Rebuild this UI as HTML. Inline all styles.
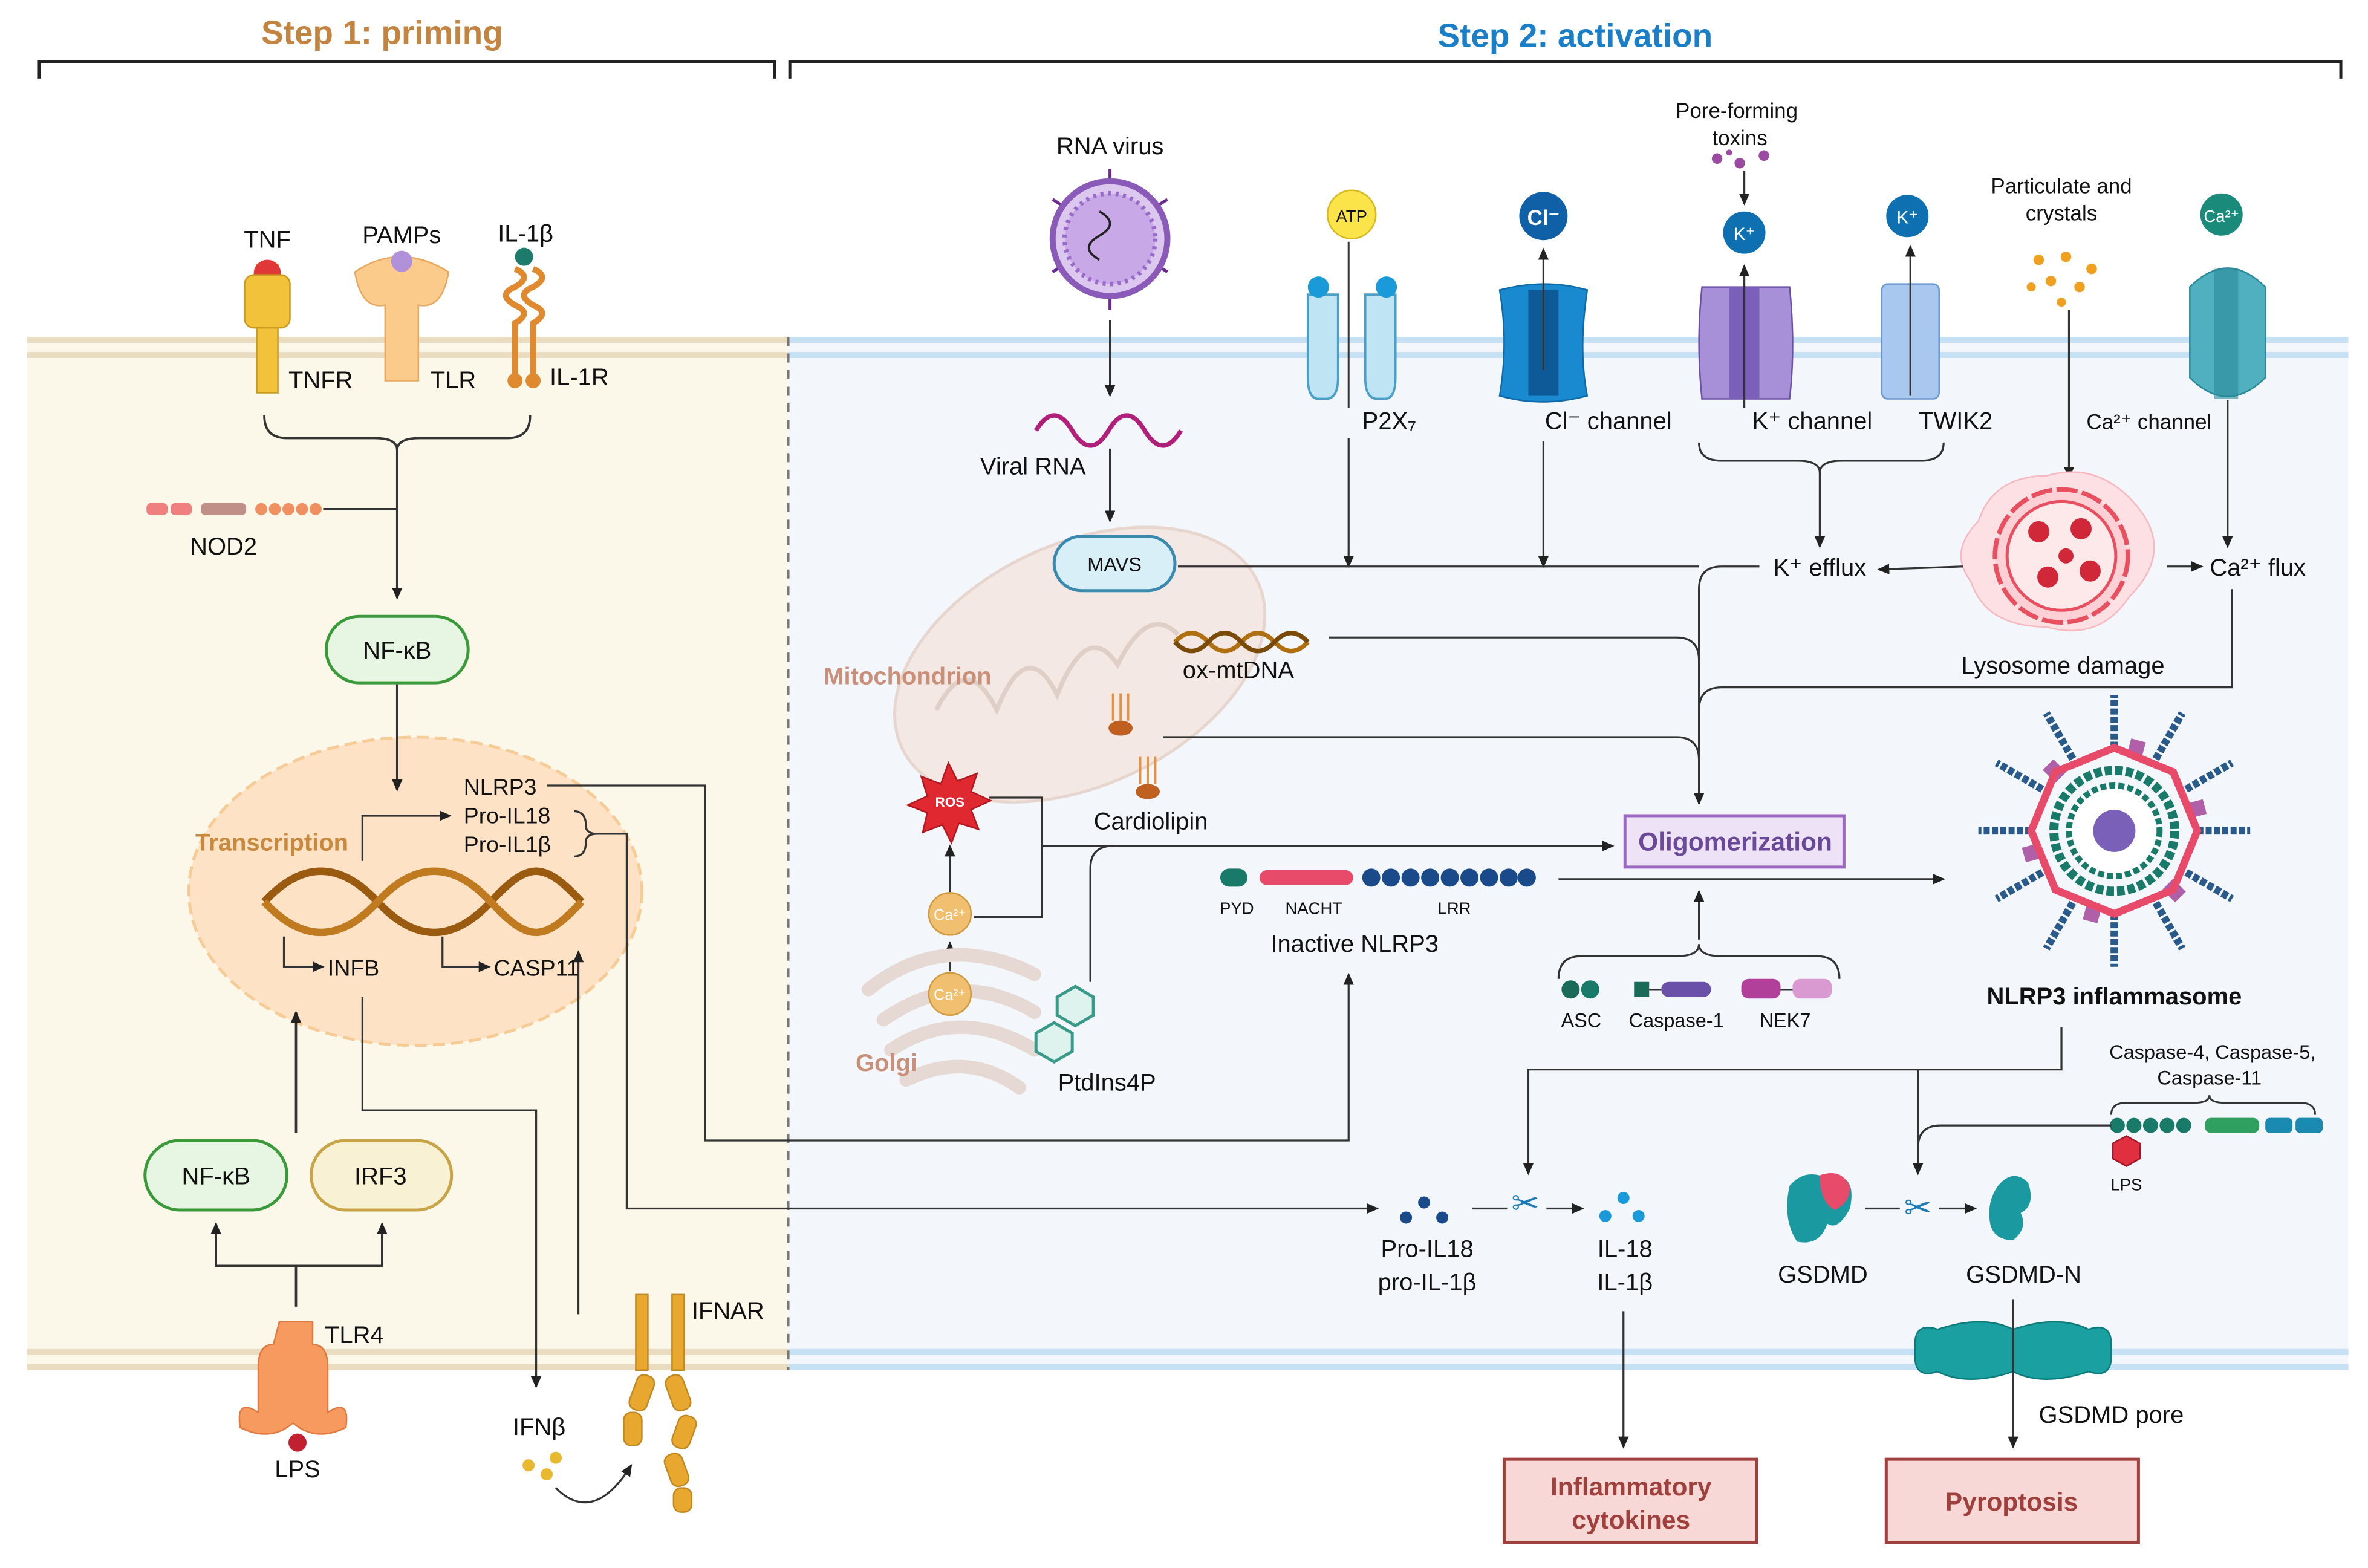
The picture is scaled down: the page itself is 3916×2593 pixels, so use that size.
<!DOCTYPE html>
<html><head><meta charset="utf-8"><style>
html,body{margin:0;padding:0;background:#fff}
svg{display:block}
text{font-family:"Liberation Sans",Arial,sans-serif;fill:#111}
</style></head><body>
<svg width="3916" height="2593" viewBox="0 0 1568 1038" preserveAspectRatio="none" xmlns="http://www.w3.org/2000/svg">
<defs>
<marker id="a" markerWidth="8" markerHeight="8" refX="7" refY="4" orient="auto" markerUnits="userSpaceOnUse"><path d="M0,0.5 L8,4 L0,7.5 Z" fill="#222"/></marker>
</defs>
<rect width="1568" height="1038" fill="#fff"/>
<text x="253" y="29" font-size="22" font-weight="bold" text-anchor="middle" style="fill:#c28440">Step 1: priming</text>
<text x="1043" y="31" font-size="22" font-weight="bold" text-anchor="middle" style="fill:#1b7fc8">Step 2: activation</text>
<path d="M26,52 V41 H513 V52" fill="none" stroke="#222" stroke-width="2"/>
<path d="M523,52 V41 H1550 V52" fill="none" stroke="#222" stroke-width="2"/>
<rect x="18" y="223" width="504" height="684" fill="#fbf8ea"/>
<rect x="18" y="223" width="504" height="4" fill="#eadcc0"/>
<rect x="18" y="233" width="504" height="4" fill="#eadcc0"/>
<rect x="18" y="893" width="504" height="4" fill="#eadcc0"/>
<rect x="18" y="903" width="504" height="4" fill="#eadcc0"/>
<rect x="522" y="223" width="1033" height="684" fill="#f3f7fc"/>
<rect x="522" y="223" width="1033" height="4" fill="#c6e0f4"/>
<rect x="522" y="233" width="1033" height="4" fill="#c6e0f4"/>
<rect x="522" y="893" width="1033" height="4" fill="#c6e0f4"/>
<rect x="522" y="903" width="1033" height="4" fill="#c6e0f4"/>
<line x1="522" y1="223" x2="522" y2="907" stroke="#777" stroke-width="1.5" stroke-dasharray="6,5"/>

<g>
<rect x="170" y="175" width="14" height="85" fill="#f2c23a" stroke="#c99a20"/>
<circle cx="177" cy="181" r="9" fill="#e03838"/>
<rect x="162" y="182" width="30" height="35" rx="6" fill="#f2c23a" stroke="#c99a20"/>
<text x="177" y="164" font-size="16" text-anchor="middle">TNF</text>
<text x="191" y="257" font-size="16">TNFR</text>
<path d="M235,180 q30,-20 62,0 q-4,25 -20,22 v50 h-22 v-50 q-16,3 -20,-22z" fill="#fbcb8c" stroke="#e8a860"/>
<circle cx="266" cy="173" r="7" fill="#b090d8"/>
<text x="266" y="161" font-size="16" text-anchor="middle">PAMPs</text>
<text x="285" y="257" font-size="16">TLR</text>
<path d="M341,178 q12,5 0,12 q-12,5 0,12 q12,5 0,12 v40" fill="none" stroke="#e08a30" stroke-width="4"/>
<path d="M353,178 q12,5 0,12 q-12,5 0,12 q12,5 0,12 v40" fill="none" stroke="#e08a30" stroke-width="4"/>
<circle cx="347" cy="170" r="6" fill="#1e7a6a"/>
<circle cx="341" cy="252" r="5" fill="#e08a30"/><circle cx="353" cy="252" r="5" fill="#e08a30"/>
<text x="348" y="160" font-size="16" text-anchor="middle">IL-1β</text>
<text x="364" y="255" font-size="16">IL-1R</text>
</g>
<path d="M175,275 q0,15 15,15 h58 q15,0 15,8 q0,-8 15,-8 h58 q15,0 15,-15" fill="none" stroke="#333" stroke-width="1.5"/>
<line x1="263" y1="297" x2="263" y2="396" stroke="#333" stroke-width="1.5" marker-end="url(#a)"/>
<rect x="97" y="333" width="14" height="8" rx="3" fill="#f08080"/><rect x="113" y="333" width="14" height="8" rx="3" fill="#f08080"/>
<rect x="133" y="333" width="30" height="8" rx="3" fill="#c09088"/>
<g fill="#f09060"><circle cx="173" cy="337" r="4"/><circle cx="182" cy="337" r="4"/><circle cx="191" cy="337" r="4"/><circle cx="200" cy="337" r="4"/><circle cx="209" cy="337" r="4"/></g>
<line x1="214" y1="337" x2="263" y2="337" stroke="#333" stroke-width="1.5"/>
<text x="148" y="367" font-size="16" text-anchor="middle">NOD2</text>
<rect x="216" y="408" width="94" height="44" rx="22" fill="#e7f6e2" stroke="#3a9a3a" stroke-width="2"/>
<text x="263" y="436" font-size="16" text-anchor="middle">NF-κB</text>
<ellipse cx="275" cy="590" rx="150" ry="102" fill="#fde2c6" stroke="#f7cb96" stroke-width="2" stroke-dasharray="8,4"/>
<line x1="263" y1="453" x2="263" y2="523" stroke="#333" stroke-width="1.5" marker-end="url(#a)"/>
<text x="180" y="563" font-size="16" font-weight="bold" text-anchor="middle" style="fill:#c8893f">Transcription</text>
<text x="307" y="526" font-size="15">NLRP3</text>
<text x="307" y="545" font-size="15">Pro-IL18</text>
<text x="307" y="564" font-size="15">Pro-IL1β</text>
<path d="M175,597 C200,570 225,570 250,597 S300,624 325,597 S360,570 385,597" fill="none" stroke="#9a5a10" stroke-width="5"/>
<path d="M175,597 C200,624 225,624 250,597 S300,570 325,597 S360,624 385,597" fill="none" stroke="#c07a20" stroke-width="5"/>
<path d="M240,570 V540 H298" fill="none" stroke="#333" stroke-width="1.3" marker-end="url(#a)"/>
<path d="M188,620 V640 H214" fill="none" stroke="#333" stroke-width="1.3" marker-end="url(#a)"/>
<path d="M293,620 V640 H324" fill="none" stroke="#333" stroke-width="1.3" marker-end="url(#a)"/>
<text x="217" y="646" font-size="15">INFB</text>
<text x="327" y="646" font-size="15">CASP11</text>
<rect x="96" y="755" width="94" height="46" rx="23" fill="#e7f6e2" stroke="#3a9a3a" stroke-width="2"/>
<text x="143" y="784" font-size="16" text-anchor="middle">NF-κB</text>
<rect x="206" y="755" width="93" height="46" rx="23" fill="#f8f1d4" stroke="#c9a446" stroke-width="2"/>
<text x="252" y="784" font-size="16" text-anchor="middle">IRF3</text>
<line x1="196" y1="750" x2="196" y2="670" stroke="#333" stroke-width="1.5" marker-end="url(#a)"/>
<path d="M196,865 V838 H143 V810 M196,838 H253 V810" fill="none" stroke="#333" stroke-width="1.5"/>
<path d="M143,812 v-2" stroke="#333" marker-end="url(#a)"/><path d="M253,812 v-2" stroke="#333" marker-end="url(#a)"/>
<path d="M185,875 h22 v15 q10,0 10,15 v30 q15,-10 12,10 q-20,10 -35,-3 q-15,13 -35,3 q-3,-20 12,-10 v-30 q0,-15 10,-15z" fill="#f79a60" stroke="#e07a40"/>
<circle cx="197" cy="955" r="6" fill="#c02030"/>
<text x="215" y="889" font-size="16">TLR4</text>
<text x="197" y="978" font-size="16" text-anchor="middle">LPS</text>
<path d="M362,520 H467 V755 H893 V645" fill="none" stroke="#333" stroke-width="1.3" marker-end="url(#a)"/>
<path d="M380,537 q8,0 8,10 q0,5 8,5 q-8,0 -8,5 q0,10 -8,10 M396,552 H415 V800 H912" fill="none" stroke="#333" stroke-width="1.3" marker-end="url(#a)"/>
<path d="M240,660 V735 H355 V918" fill="none" stroke="#333" stroke-width="1.3" marker-end="url(#a)"/>
<path d="M383,870 V630" fill="none" stroke="#333" stroke-width="1.3" marker-end="url(#a)"/>
<g fill="#e8b830"><circle cx="350" cy="970" r="4"/><circle cx="362" cy="976" r="4"/><circle cx="368" cy="965" r="4"/></g>
<text x="357" y="950" font-size="16" text-anchor="middle">IFNβ</text>
<path d="M368,985 q25,25 50,-15" fill="none" stroke="#333" stroke-width="1.3" marker-end="url(#a)"/>
<g fill="#e8a830" stroke="#c08820">
<rect x="421" y="857" width="8" height="50"/><rect x="419" y="910" width="12" height="24" rx="5" transform="rotate(20 425 922)"/><rect x="413" y="935" width="12" height="22" rx="5"/>
<rect x="445" y="857" width="8" height="50"/><rect x="443" y="910" width="12" height="24" rx="5" transform="rotate(-20 449 922)"/><rect x="447" y="937" width="12" height="22" rx="5" transform="rotate(20 453 948)"/><rect x="442" y="962" width="12" height="22" rx="5" transform="rotate(-20 448 973)"/><rect x="446" y="985" width="12" height="16" rx="5"/>
</g>
<text x="458" y="873" font-size="16">IFNAR</text>

<text x="735" y="102" font-size="16" text-anchor="middle">RNA virus</text>
<g stroke="#6a2a90" stroke-width="2">
<line x1="735" y1="112" x2="735" y2="205"/><line x1="697" y1="132" x2="773" y2="180"/><line x1="697" y1="180" x2="773" y2="132"/>
</g>
<circle cx="735" cy="158" r="38" fill="#dcc8ee" stroke="#8a5ab8" stroke-width="4"/>
<circle cx="735" cy="158" r="30" fill="#c8a8e6" stroke="#9a6ac8" stroke-width="3" stroke-dasharray="2,3"/>
<path d="M728,140 q14,8 0,16 q-14,8 0,16" fill="none" stroke="#222" stroke-width="1.5"/>
<line x1="735" y1="212" x2="735" y2="262" stroke="#333" stroke-width="1.3" marker-end="url(#a)"/>
<path d="M686,285 q12,-20 24,0 q12,20 24,0 q12,-20 24,0 q12,20 24,0" fill="none" stroke="#b0207a" stroke-width="3"/>
<text x="684" y="314" font-size="16" text-anchor="middle">Viral RNA</text>
<line x1="735" y1="297" x2="735" y2="345" stroke="#333" stroke-width="1.3" marker-end="url(#a)"/>
<ellipse cx="715" cy="440" rx="130" ry="80" transform="rotate(-25 715 440)" fill="#f3e8e3" stroke="#e6d6ce" stroke-width="2"/>
<path d="M620,470 q20,-40 40,0 q20,-50 40,-10 q20,-50 40,-20 q20,-40 40,-20" fill="none" stroke="#e0cfc6" stroke-width="3"/>
<rect x="698" y="355" width="80" height="36" rx="18" fill="#d9eff8" stroke="#3a8ab0" stroke-width="2"/>
<text x="738" y="378" font-size="13" text-anchor="middle">MAVS</text>
<text x="601" y="453" font-size="16" font-weight="bold" text-anchor="middle" style="fill:#c98f78">Mitochondrion</text>
<path d="M778,425 q11,-12 22,0 t22,0 t22,0 t22,0" fill="none" stroke="#b07010" stroke-width="3"/>
<path d="M778,425 q11,12 22,0 t22,0 t22,0 t22,0" fill="none" stroke="#7a4a08" stroke-width="3"/>
<text x="820" y="449" font-size="16" text-anchor="middle">ox-mtDNA</text>
<ellipse cx="742" cy="482" rx="8" ry="5" fill="#c06020"/><path d="M737,477 v-18 M742,477 v-18 M747,477 v-18" stroke="#e8903a" stroke-width="1.5"/>
<ellipse cx="760" cy="524" rx="8" ry="5" fill="#c06020"/><path d="M755,519 v-18 M760,519 v-18 M765,519 v-18" stroke="#e8903a" stroke-width="1.5"/>
<text x="762" y="549" font-size="16" text-anchor="middle">Cardiolipin</text>
<path d="M628,505 l6,12 13,-5 -4,12 13,6 -13,6 5,13 -13,-4 -5,13 -6,-12 -13,5 3,-13 -13,-5 13,-6 -4,-13 13,5z" fill="#e02830" stroke="#b01820"/>
<text x="629" y="534" font-size="9" font-weight="bold" text-anchor="middle" style="fill:#fff">ROS</text>
<path d="M655,528 H690 V607 H645 M690,560 H1068" fill="none" stroke="#333" stroke-width="1.3" marker-end="url(#a)"/>
<line x1="629" y1="592" x2="629" y2="560" stroke="#333" stroke-width="1.3" marker-end="url(#a)"/>
<line x1="629" y1="643" x2="629" y2="624" stroke="#333" stroke-width="1.3" marker-end="url(#a)"/>
<g fill="none" stroke="#e6d8d2" stroke-width="9" stroke-linecap="round">
<path d="M575,655 q50,-40 110,-10"/><path d="M585,675 q50,-35 100,-5"/><path d="M590,695 q45,-30 95,0"/><path d="M600,715 q40,-20 75,5"/>
</g>
<circle cx="629" cy="605" r="14" fill="#f0c070" stroke="#d09a40"/><text x="629" y="609" font-size="10" text-anchor="middle" style="fill:#fff">Ca²⁺</text>
<circle cx="629" cy="658" r="14" fill="#f0c070" stroke="#d09a40"/><text x="629" y="662" font-size="10" text-anchor="middle" style="fill:#fff">Ca²⁺</text>
<text x="587" y="709" font-size="16" font-weight="bold" text-anchor="middle" style="fill:#c98f78">Golgi</text>
<polygon points="700,660 712,653 724,660 724,672 712,679 700,672" fill="#dff3ee" stroke="#3a9a8a" stroke-width="2"/>
<polygon points="686,684 698,677 710,684 710,696 698,703 686,696" fill="#dff3ee" stroke="#3a9a8a" stroke-width="2"/>
<text x="733" y="722" font-size="16" text-anchor="middle">PtdIns4P</text>
<path d="M722,650 V575 q0,-15 15,-15" fill="none" stroke="#333" stroke-width="1.3"/>
<circle cx="895" cy="142" r="16" fill="#fbe44a" stroke="#d8b820"/><text x="895" y="147" font-size="11" text-anchor="middle">ATP</text>
<path d="M866,195 h20 v55 q0,14 -8,14 h-5 q-7,0 -7,-14z M904,195 h20 v55 q0,14 -7,14 h-5 q-8,0 -8,-14z" fill="#bfe4f4" stroke="#4aa0c8" stroke-width="1.5"/>
<circle cx="873" cy="190" r="7" fill="#1a9ad8"/><circle cx="918" cy="190" r="7" fill="#1a9ad8"/>
<line x1="893" y1="160" x2="893" y2="270" stroke="#333" stroke-width="1.2"/>
<text x="902" y="284" font-size="16">P2X₇</text>
<line x1="893" y1="290" x2="893" y2="375" stroke="#333" stroke-width="1.3" marker-end="url(#a)"/>
<circle cx="1022" cy="143" r="16" fill="#1060a8"/><text x="1022" y="149" font-size="14" font-weight="bold" text-anchor="middle" style="fill:#fff">Cl⁻</text>
<path d="M993,192 q30,-8 58,0 q-6,40 0,70 q-30,8 -58,0 q6,-35 0,-70z" fill="#1a8ad0" stroke="#0e6aa8"/>
<rect x="1012" y="192" width="20" height="70" fill="#0e5a98"/>
<line x1="1022" y1="245" x2="1022" y2="165" stroke="#333" stroke-width="1.3" marker-end="url(#a)"/>
<text x="1065" y="284" font-size="16" text-anchor="middle">Cl⁻ channel</text>
<line x1="1022" y1="292" x2="1022" y2="375" stroke="#333" stroke-width="1.3" marker-end="url(#a)"/>
<text x="1150" y="78" font-size="14" text-anchor="middle">Pore-forming</text>
<text x="1152" y="96" font-size="14" text-anchor="middle">toxins</text>
<g fill="#9a4aa0"><circle cx="1137" cy="105" r="3.5"/><circle cx="1152" cy="108" r="3.5"/><circle cx="1168" cy="103" r="3.5"/><circle cx="1145" cy="101" r="2"/></g>
<line x1="1155" y1="113" x2="1155" y2="135" stroke="#333" stroke-width="1.3" marker-end="url(#a)"/>
<circle cx="1155" cy="154" r="15" fill="#0e70b0" stroke="#fff" stroke-width="2"/><text x="1155" y="159" font-size="12" text-anchor="middle" style="fill:#fff">K⁺</text>
<path d="M1127,190 h58 q4,40 0,74 h-58 q-4,-37 0,-74z" fill="#a890d8" stroke="#6a50a8"/>
<rect x="1145" y="190" width="20" height="74" fill="#7a60b8"/>
<line x1="1155" y1="270" x2="1155" y2="176" stroke="#333" stroke-width="1.3" marker-end="url(#a)"/>
<text x="1200" y="284" font-size="16" text-anchor="middle">K⁺ channel</text>
<circle cx="1263" cy="143" r="15" fill="#0e70b0" stroke="#fff" stroke-width="2"/><text x="1263" y="148" font-size="12" text-anchor="middle" style="fill:#fff">K⁺</text>
<rect x="1246" y="188" width="38" height="76" rx="4" fill="#a8c8f0" stroke="#6a98d0"/>
<line x1="1265" y1="262" x2="1265" y2="163" stroke="#333" stroke-width="1.3" marker-end="url(#a)"/>
<text x="1295" y="284" font-size="16" text-anchor="middle">TWIK2</text>
<path d="M1125,293 q0,12 15,12 h50 q15,0 15,8 q0,-8 15,-8 h52 q15,0 15,-12" fill="none" stroke="#333" stroke-width="1.3"/>
<line x1="1205" y1="312" x2="1205" y2="362" stroke="#333" stroke-width="1.3" marker-end="url(#a)"/>
<text x="1365" y="128" font-size="14" text-anchor="middle">Particulate and</text>
<text x="1365" y="146" font-size="14" text-anchor="middle">crystals</text>
<g fill="#f0a020"><circle cx="1350" cy="172" r="3.5"/><circle cx="1368" cy="170" r="3.5"/><circle cx="1385" cy="178" r="3.5"/><circle cx="1358" cy="186" r="3.5"/><circle cx="1377" cy="190" r="3.5"/><circle cx="1345" cy="190" r="3"/><circle cx="1365" cy="200" r="3"/></g>
<line x1="1370" y1="205" x2="1370" y2="316" stroke="#333" stroke-width="1.3" marker-end="url(#a)"/>
<circle cx="1471" cy="142" r="15" fill="#1a8a7a" stroke="#fff" stroke-width="2"/><text x="1471" y="147" font-size="11" text-anchor="middle" style="fill:#fff">Ca²⁺</text>
<path d="M1450,190 q25,-25 50,0 v60 q-25,25 -50,0z" fill="#50b0c0" stroke="#2a8a9a"/>
<rect x="1466" y="178" width="16" height="86" fill="#2a8a9a" opacity="0.6"/>
<text x="1423" y="284" font-size="14" text-anchor="middle">Ca²⁺ channel</text>
<line x1="1475" y1="265" x2="1475" y2="362" stroke="#333" stroke-width="1.3" marker-end="url(#a)"/>
<path d="M1310,345 q10,-30 45,-30 q35,-10 60,20 q25,30 -5,60 q-20,30 -55,20 q-40,0 -50,-30 q-15,-20 5,-40z" fill="#fde0e4" stroke="#f7b8c0"/>
<circle cx="1365" cy="368" r="44" fill="#fdd0d6" stroke="#e85060" stroke-width="3" stroke-dasharray="14,3"/>
<circle cx="1365" cy="368" r="36" fill="#fde8ea" stroke="#e85060" stroke-width="2"/>
<g fill="#d02838"><circle cx="1350" cy="352" r="7"/><circle cx="1378" cy="350" r="7"/><circle cx="1356" cy="382" r="7"/><circle cx="1384" cy="378" r="7"/><circle cx="1368" cy="368" r="5"/></g>
<text x="1366" y="446" font-size="16" text-anchor="middle">Lysosome damage</text>
<text x="1205" y="381" font-size="16" text-anchor="middle">K⁺ efflux</text>
<text x="1495" y="381" font-size="16" text-anchor="middle">Ca²⁺ flux</text>
<line x1="1300" y1="375" x2="1244" y2="377" stroke="#333" stroke-width="1.3" marker-end="url(#a)"/>
<line x1="1435" y1="375" x2="1458" y2="375" stroke="#333" stroke-width="1.3" marker-end="url(#a)"/>
<path d="M780,375 H1125" fill="none" stroke="#333" stroke-width="1.3"/>
<path d="M1165,375 H1140 q-15,0 -15,15 V532" fill="none" stroke="#333" stroke-width="1.3" marker-end="url(#a)"/>
<path d="M1478,390 V455 H1140 q-15,0 -15,15" fill="none" stroke="#333" stroke-width="1.3"/>
<path d="M880,422 H1110 q15,0 15,15" fill="none" stroke="#333" stroke-width="1.3"/>
<path d="M770,488 H1110 q15,0 15,15" fill="none" stroke="#333" stroke-width="1.3"/>
<rect x="1076" y="540" width="145" height="34" fill="#eee2f6" stroke="#9a68c0" stroke-width="2"/>
<text x="1149" y="563" font-size="17" font-weight="bold" text-anchor="middle" style="fill:#6a4a98">Oligomerization</text>
<rect x="808" y="575" width="18" height="12" rx="6" fill="#1a7a6a"/>
<rect x="834" y="576" width="62" height="10" rx="5" fill="#e84a6a"/>
<g fill="#1a4a8a"><circle cx="908" cy="581" r="6"/><circle cx="921" cy="581" r="6"/><circle cx="934" cy="581" r="6"/><circle cx="947" cy="581" r="6"/><circle cx="960" cy="581" r="6"/><circle cx="973" cy="581" r="6"/><circle cx="986" cy="581" r="6"/><circle cx="999" cy="581" r="6"/><circle cx="1011" cy="581" r="6"/></g>
<text x="819" y="605" font-size="11" text-anchor="middle">PYD</text>
<text x="870" y="605" font-size="11" text-anchor="middle">NACHT</text>
<text x="963" y="605" font-size="11" text-anchor="middle">LRR</text>
<text x="897" y="630" font-size="16" text-anchor="middle">Inactive NLRP3</text>
<line x1="1032" y1="582" x2="1287" y2="582" stroke="#333" stroke-width="1.3" marker-end="url(#a)"/>
<path d="M1032,648 q0,-15 15,-15 h63 q15,0 15,-8 q0,8 15,8 h63 q15,0 15,15" fill="none" stroke="#333" stroke-width="1.3"/>
<line x1="1125" y1="622" x2="1125" y2="590" stroke="#333" stroke-width="1.3" marker-end="url(#a)"/>
<circle cx="1040" cy="655" r="6" fill="#1a6a5a"/><circle cx="1053" cy="655" r="6" fill="#1a7a6a"/>
<text x="1047" y="680" font-size="13" text-anchor="middle">ASC</text>
<rect x="1082" y="650" width="10" height="10" fill="#1a6a5a"/><line x1="1092" y1="655" x2="1100" y2="655" stroke="#333"/><rect x="1100" y="650" width="33" height="10" rx="5" fill="#6a50a8"/>
<text x="1110" y="680" font-size="13" text-anchor="middle">Caspase-1</text>
<rect x="1153" y="648" width="26" height="13" rx="5" fill="#b0409a"/><line x1="1179" y1="655" x2="1187" y2="655" stroke="#333"/><rect x="1187" y="648" width="26" height="13" rx="5" fill="#d89ad0"/>
<text x="1182" y="680" font-size="13" text-anchor="middle">NEK7</text>
<g transform="translate(1400,550)">
<g stroke="#2a5a8a" stroke-width="5" stroke-dasharray="4,1.5">
<line x1="0" y1="-55" x2="0" y2="-90" transform="rotate(0)"/><line x1="0" y1="-55" x2="0" y2="-90" transform="rotate(30)"/><line x1="0" y1="-55" x2="0" y2="-90" transform="rotate(60)"/><line x1="0" y1="-55" x2="0" y2="-90" transform="rotate(90)"/><line x1="0" y1="-55" x2="0" y2="-90" transform="rotate(120)"/><line x1="0" y1="-55" x2="0" y2="-90" transform="rotate(150)"/><line x1="0" y1="-55" x2="0" y2="-90" transform="rotate(180)"/><line x1="0" y1="-55" x2="0" y2="-90" transform="rotate(210)"/><line x1="0" y1="-55" x2="0" y2="-90" transform="rotate(240)"/><line x1="0" y1="-55" x2="0" y2="-90" transform="rotate(270)"/><line x1="0" y1="-55" x2="0" y2="-90" transform="rotate(300)"/><line x1="0" y1="-55" x2="0" y2="-90" transform="rotate(330)"/>
</g>
<g fill="#b060a8"><rect x="-5" y="-62" width="10" height="12" transform="rotate(15)"/><rect x="-5" y="-62" width="10" height="12" transform="rotate(75)"/><rect x="-5" y="-62" width="10" height="12" transform="rotate(135)"/><rect x="-5" y="-62" width="10" height="12" transform="rotate(195)"/><rect x="-5" y="-62" width="10" height="12" transform="rotate(255)"/><rect x="-5" y="-62" width="10" height="12" transform="rotate(315)"/></g>
<polygon points="0,-55 39,-39 55,0 39,39 0,55 -39,39 -55,0 -39,-39" fill="none" stroke="#e84a6a" stroke-width="5"/>
<circle r="40" fill="none" stroke="#1a7a6a" stroke-width="6" stroke-dasharray="5,2"/>
<circle r="30" fill="#fff" stroke="#1a7a6a" stroke-width="4" stroke-dasharray="4,2"/>
<circle r="14" fill="#7a60b8"/>
</g>
<text x="1400" y="665" font-size="16" font-weight="bold" text-anchor="middle">NLRP3 inflammasome</text>
<path d="M1365,680 V708 H1012 V777" fill="none" stroke="#333" stroke-width="1.3" marker-end="url(#a)"/>
<path d="M1270,708 V777" fill="none" stroke="#333" stroke-width="1.3" marker-end="url(#a)"/>
<text x="1465" y="701" font-size="13" text-anchor="middle">Caspase-4, Caspase-5,</text>
<text x="1463" y="718" font-size="13" text-anchor="middle">Caspase-11</text>
<path d="M1398,738 q0,-8 10,-8 h45 q10,0 10,-5 q0,5 10,5 h50 q10,0 10,8" fill="none" stroke="#333" stroke-width="1.2"/>
<g fill="#1a7a6a"><circle cx="1402" cy="745" r="5"/><circle cx="1413" cy="745" r="5"/><circle cx="1424" cy="745" r="5"/><circle cx="1435" cy="745" r="5"/><circle cx="1446" cy="745" r="5"/></g>
<rect x="1460" y="740" width="36" height="10" rx="4" fill="#30a060"/><rect x="1500" y="740" width="18" height="10" rx="3" fill="#1a8ab0"/><rect x="1520" y="740" width="18" height="10" rx="3" fill="#1a8ab0"/>
<polygon points="1408,752 1417,757 1417,767 1408,772 1399,767 1399,757" fill="#e03040" stroke="#a01828"/>
<text x="1408" y="788" font-size="11" text-anchor="middle">LPS</text>
<path d="M1398,745 H1285 q-15,0 -15,15" fill="none" stroke="#333" stroke-width="1.3"/>
<g fill="#1a4a8a"><circle cx="931" cy="806" r="4"/><circle cx="943" cy="796" r="4"/><circle cx="955" cy="806" r="4"/></g>
<text x="945" y="832" font-size="16" text-anchor="middle">Pro-IL18</text>
<text x="945" y="854" font-size="16" text-anchor="middle">pro-IL-1β</text>
<text x="1010" y="804" font-size="22" text-anchor="middle" style="fill:#1a7ab8">✂</text>
<line x1="975" y1="800" x2="998" y2="800" stroke="#333" stroke-width="1.3"/>
<line x1="1024" y1="800" x2="1048" y2="800" stroke="#333" stroke-width="1.3" marker-end="url(#a)"/>
<g fill="#1a9ad8"><circle cx="1063" cy="805" r="4"/><circle cx="1075" cy="793" r="4"/><circle cx="1085" cy="805" r="4"/></g>
<text x="1076" y="832" font-size="16" text-anchor="middle">IL-18</text>
<text x="1076" y="854" font-size="16" text-anchor="middle">IL-1β</text>
<line x1="1075" y1="868" x2="1075" y2="958" stroke="#333" stroke-width="1.3" marker-end="url(#a)"/>
<path d="M1185,785 q10,-12 25,-5 q20,-5 15,20 q-8,15 -15,10 q-5,15 -20,12 q-10,-15 -5,-37z" fill="#1a9aa0"/>
<path d="M1205,778 q15,-5 20,8 q0,10 -10,15 q-10,-5 -10,-23z" fill="#e84a6a"/>
<text x="1207" y="849" font-size="16" text-anchor="middle">GSDMD</text>
<line x1="1235" y1="800" x2="1258" y2="800" stroke="#333" stroke-width="1.3"/>
<text x="1270" y="807" font-size="22" text-anchor="middle" style="fill:#1a7ab8">✂</text>
<line x1="1284" y1="800" x2="1308" y2="800" stroke="#333" stroke-width="1.3" marker-end="url(#a)"/>
<path d="M1323,785 q10,-12 20,-2 q5,15 -5,20 q5,10 -5,18 q-12,0 -15,-10 q-3,-15 5,-26z" fill="#1a9aa0"/>
<text x="1340" y="849" font-size="16" text-anchor="middle">GSDMD-N</text>
<path d="M1268,890 q0,-15 15,-10 q30,-10 50,0 q30,-10 50,0 q15,-5 15,10 v8 q0,15 -15,10 q-30,10 -50,0 q-30,10 -50,0 q-15,5 -15,-10z" fill="#1aa0a0" stroke="#0e7a7a"/>
<line x1="1333" y1="860" x2="1333" y2="958" stroke="#333" stroke-width="1.3" marker-end="url(#a)"/>
<text x="1398" y="942" font-size="16" text-anchor="middle">GSDMD pore</text>
<rect x="996" y="966" width="167" height="55" fill="#f7d8d6" stroke="#a0403c" stroke-width="2"/>
<text x="1080" y="990" font-size="17" font-weight="bold" text-anchor="middle" style="fill:#a0403c">Inflammatory</text>
<text x="1080" y="1012" font-size="17" font-weight="bold" text-anchor="middle" style="fill:#a0403c">cytokines</text>
<rect x="1249" y="966" width="167" height="55" fill="#f7d8d6" stroke="#a0403c" stroke-width="2"/>
<text x="1332" y="1000" font-size="17" font-weight="bold" text-anchor="middle" style="fill:#a0403c">Pyroptosis</text>
</svg>
</body></html>
